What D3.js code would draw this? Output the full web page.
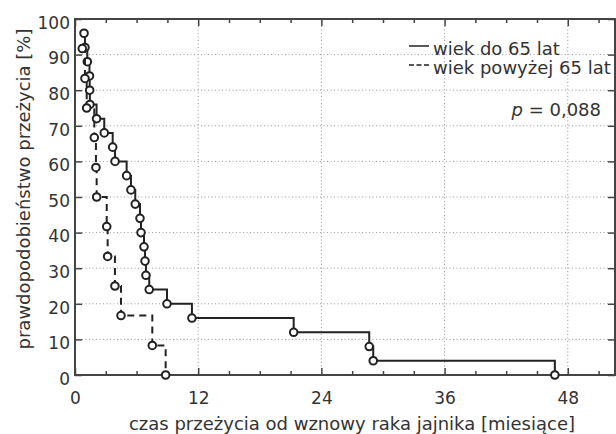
<!DOCTYPE html>
<html>
<head>
<meta charset="utf-8">
<script src="https://cdn.jsdelivr.net/npm/d3@7/dist/d3.min.js"></script>
<style>
body { margin: 0; background: #fff; }
text { font-family: "DejaVu Sans", sans-serif; fill: #333; }
</style>
</head>
<body>
<div id="chart"></div>
<script>
// wiek do 65 lat - czas [miesiace] i przezycie [%] w punktach zdarzen
var timeYoung = [0.88, 0.97, 1.2, 1.41, 1.43, 1.45, 2.1, 2.85, 3.67, 3.9, 5.03, 5.45, 5.87, 6.33, 6.43, 6.72, 6.82, 6.91, 7.23, 8.96, 11.39, 21.3, 28.66, 29.05, 46.74];
var survYoung = [96, 92, 88, 84, 80, 76, 72, 68, 64, 60, 56, 52, 48, 44, 40, 36, 32, 28, 24, 20, 16, 12, 8, 4, 0];

// wiek powyzej 65 lat
var timeOld = [0.71, 0.97, 1.14, 1.88, 2.04, 2.11, 3.09, 3.18, 3.89, 4.48, 7.53, 8.83];
var survOld = [91.7, 83.3, 75, 66.7, 58.3, 50, 41.7, 33.3, 25, 16.7, 8.3, 0];

var xTicks = [0, 12, 24, 36, 48];
var xMinorTicks = [3, 6, 9, 15, 18, 21, 27, 30, 33, 39, 42, 45, 51];
var yTicks = [0, 10, 20, 30, 40, 50, 60, 70, 80, 90, 100];
var legendLabels = ["wiek do 65 lat", "wiek powyżej 65 lat"];
var pValue = "0,088";

var width = 616;
var height = 434;
var margin = { top: 19, right: 1, bottom: 59, left: 75 };
var plotW = width - margin.left - margin.right;
var plotH = height - margin.top - margin.bottom;

var svg = d3.select("#chart")
    .append("svg")
    .attr("width", width)
    .attr("height", height);

var g = svg.append("g")
    .attr("transform", "translate(" + margin.left + "," + margin.top + ")");

var x = d3.scaleLinear().domain([0, 52.6]).range([0, plotW]);
var y = d3.scaleLinear().domain([0, 100]).range([plotH, 0]);

// grid
g.selectAll(".gx").data(xTicks.slice(1))
    .enter().append("line")
    .attr("x1", d => x(d)).attr("x2", d => x(d))
    .attr("y1", 0).attr("y2", plotH)
    .attr("stroke", "#999").attr("stroke-dasharray", "1,2.5");
g.selectAll(".gy").data(yTicks.slice(1, -1))
    .enter().append("line")
    .attr("x1", 0).attr("x2", plotW)
    .attr("y1", d => y(d)).attr("y2", d => y(d))
    .attr("stroke", "#999").attr("stroke-dasharray", "1,2.5");

// axes (ticks inward)
function styleAxis(sel) {
    sel.select(".domain").remove();
    sel.selectAll("line").attr("stroke", "#444").attr("stroke-width", 1.5);
    sel.selectAll("text").style("font-size", "17px").attr("fill", "#333");
}

g.append("g").attr("transform", "translate(0," + plotH + ")")
    .call(d3.axisBottom(x).tickValues(xTicks).tickSize(-7).tickPadding(17))
    .call(styleAxis);
g.append("g").attr("transform", "translate(0," + plotH + ")")
    .call(d3.axisBottom(x).tickValues(xMinorTicks).tickSize(-4).tickFormat(""))
    .call(styleAxis);
g.append("g")
    .call(d3.axisTop(x).tickValues(xTicks).tickSize(-7).tickFormat(""))
    .call(styleAxis);
g.append("g")
    .call(d3.axisTop(x).tickValues(xMinorTicks).tickSize(-4).tickFormat(""))
    .call(styleAxis);
g.append("g")
    .call(d3.axisLeft(y).tickValues(yTicks).tickSize(-7).tickPadding(5))
    .call(styleAxis)
    .selectAll("text").attr("dy", "0.55em");
g.append("g").attr("transform", "translate(" + plotW + ",0)")
    .call(d3.axisRight(y).tickValues(yTicks).tickSize(-7).tickFormat(""))
    .call(styleAxis);

// frame
g.append("rect")
    .attr("width", plotW).attr("height", plotH)
    .attr("fill", "none").attr("stroke", "#444").attr("stroke-width", 2);

// survival curves
var line = d3.line()
    .x(d => x(d[0]))
    .y(d => y(d[1]))
    .curve(d3.curveStepAfter);

var series = [
    { t: timeYoung, s: survYoung, dash: null },
    { t: timeOld, s: survOld, dash: "7,5" }
];

series.forEach(function(ser) {
    var pts = ser.t.map((t, i) => [t, ser.s[i]]);
    g.append("path")
        .datum(pts)
        .attr("d", line)
        .attr("fill", "none")
        .attr("stroke", "#222")
        .attr("stroke-width", 2)
        .attr("stroke-dasharray", ser.dash);
    g.selectAll(null).data(pts)
        .enter().append("circle")
        .attr("cx", d => x(d[0]))
        .attr("cy", d => y(d[1]))
        .attr("r", 3.8)
        .attr("fill", "#fff")
        .attr("stroke", "#222")
        .attr("stroke-width", 2);
});

// legend
var legend = svg.append("g").attr("transform", "translate(409,49)");
legendLabels.forEach(function(lbl, i) {
    legend.append("line")
        .attr("x1", 0).attr("x2", 20)
        .attr("y1", i * 19 - 3).attr("y2", i * 19 - 3)
        .attr("stroke", "#222").attr("stroke-width", 1.5)
        .attr("stroke-dasharray", i === 1 ? "5,2.5" : null);
    legend.append("text")
        .attr("x", 24).attr("y", i * 19)
        .attr("dy", "0.35em")
        .style("font-size", "18px")
        .text(lbl);
});

var pText = svg.append("text")
    .attr("x", 601).attr("y", 110)
    .attr("dy", "0.35em")
    .attr("text-anchor", "end")
    .style("font-size", "18px");
pText.append("tspan").style("font-style", "italic").text("p");
pText.append("tspan").text(" = " + pValue);

// axis titles
svg.append("text")
    .attr("x", 352)
    .attr("y", 430)
    .attr("text-anchor", "middle")
    .style("font-size", "18px")
    .text("czas przeżycia od wznowy raka jajnika [miesiące]");

svg.append("text")
    .attr("transform", "translate(30,189) rotate(-90)")
    .attr("text-anchor", "middle")
    .style("font-size", "18px")
    .text("prawdopodobieństwo przeżycia [%]");
</script>
</body>
</html>
